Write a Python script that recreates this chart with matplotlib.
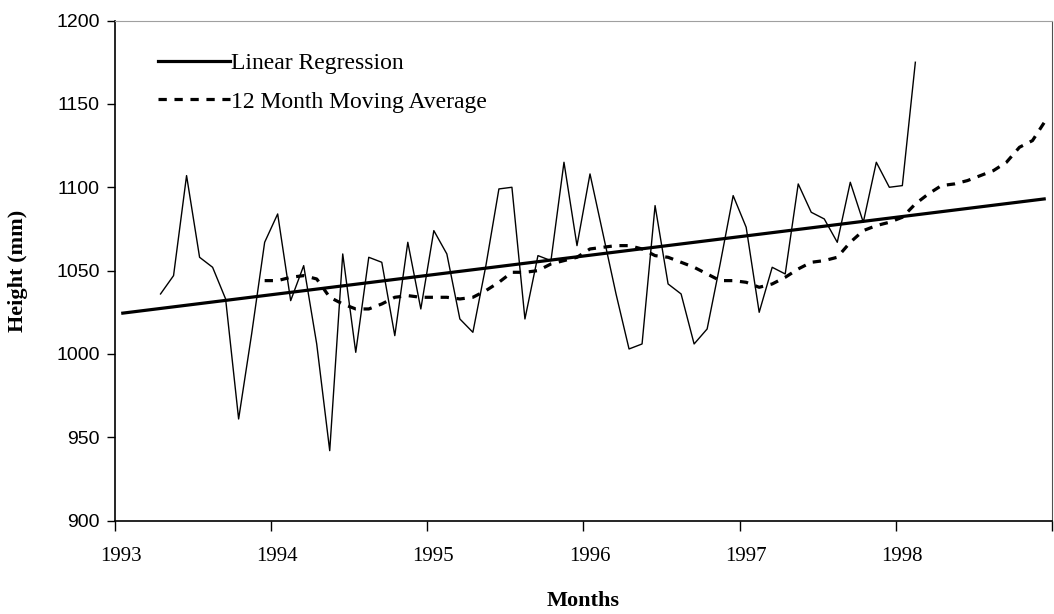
"""Height record 1993-1998: monthly values, 12 month moving average, linear trend."""
import matplotlib
matplotlib.use("Agg")
import matplotlib.pyplot as plt
import matplotlib.transforms as mtransforms
import numpy as np

# monthly readings, first value is April 1993 (month index 3 from Jan 1993)
raw_start = 3
raw_height = [1036, 1047, 1107, 1058, 1052, 1033, 961, 1012, 1067,
              1084, 1032, 1053, 1006, 942, 1060, 1001, 1058, 1055, 1011, 1067, 1027,
              1074, 1060, 1021, 1013, 1053, 1099, 1100, 1021, 1059, 1056, 1115, 1065,
              1108, 1072, 1036, 1003, 1006, 1089, 1042, 1036, 1006, 1015, 1054, 1095,
              1076, 1025, 1052, 1048, 1102, 1085, 1081, 1067, 1103, 1079, 1115, 1100,
              1101, 1175]

# 12 month moving average, first value is December 1993
ma_start = 11
ma_height = [1044,
             1044, 1046, 1047, 1045, 1034, 1030, 1027, 1027, 1030, 1034, 1035, 1034,
             1034, 1034, 1033, 1034, 1038, 1043, 1049, 1049, 1050, 1054, 1056, 1058,
             1063, 1064, 1065, 1065, 1063, 1059, 1058, 1055, 1052, 1048, 1044, 1044,
             1043, 1040, 1042, 1046, 1051, 1055, 1056, 1058, 1067, 1074, 1077, 1079,
             1082, 1090, 1096, 1101, 1102, 1104, 1107, 1110, 1115, 1124, 1128, 1140]

# linear regression end points as drawn
reg_years = [1993.05, 1998.95]
reg_height = [1024.5, 1093.0]

years = [1993, 1994, 1995, 1996, 1997, 1998, 1999]
year_labels = ["1993", "1994", "1995", "1996", "1997", "1998", ""]


def month_x(start, n):
    return 1993 + (start + np.arange(n) + 0.5) / 12.0


fig = plt.figure(figsize=(10.54, 6.14), dpi=100)
ax = fig.add_axes([0.1091, 0.152, 0.889, 0.8145])

ax.plot(month_x(raw_start, len(raw_height)), raw_height, color="black", lw=1.0)
ax.plot(reg_years, reg_height, color="black", lw=2.3, label="Linear Regression")
ax.plot(month_x(ma_start, len(ma_height)), ma_height, color="black", lw=2.3,
        ls=(0, (2.6, 2.4)), label="12 Month Moving Average")

ax.set_xlim(1993, 1999)
ax.set_ylim(900, 1200)
ax.set_xticks(years)
ax.set_xticklabels(year_labels, fontfamily="Liberation Serif", fontsize=15)
ax.set_yticks(np.arange(900, 1201, 50))
for t in ax.get_yticklabels():
    t.set_fontfamily("Liberation Sans")
    t.set_fontsize(14)
ax.tick_params(axis="x", direction="out", length=7, width=1, pad=12)
ax.tick_params(axis="y", direction="out", length=6, width=1, pad=5)
# labels sit a few pixels right of the tick marks in the original
shift = mtransforms.ScaledTranslation(6 / 100, 0, fig.dpi_scale_trans)
for t in ax.get_xticklabels():
    t.set_transform(t.get_transform() + shift)

for side in ("left", "bottom"):
    ax.spines[side].set_linewidth(1.2)
ax.spines["top"].set_color("#a0a0a0")
ax.spines["top"].set_linewidth(0.8)
ax.spines["right"].set_color("#505050")
ax.spines["right"].set_linewidth(0.8)

ax.set_xlabel("Months", fontfamily="Liberation Serif", fontweight="bold",
              fontsize=16, labelpad=18)
ax.set_ylabel("Height (mm)", fontfamily="Liberation Serif", fontweight="bold",
              fontsize=16, labelpad=20)

leg = ax.legend(loc="upper left", bbox_to_anchor=(0.046, 0.936), frameon=False,
                prop={"family": "Liberation Serif", "size": 17},
                handlelength=3.05, handletextpad=0.05, labelspacing=0.72,
                borderpad=0, borderaxespad=0)

fig.savefig("out.png", dpi=100)
